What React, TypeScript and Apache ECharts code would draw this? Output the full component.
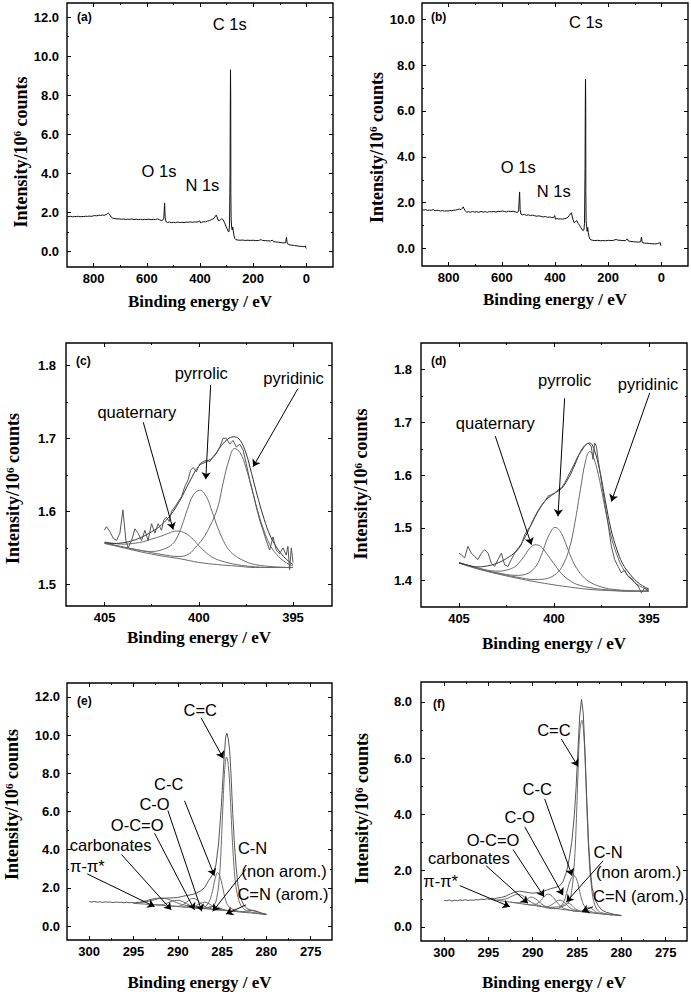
import React, { useEffect, useRef } from 'react';
import * as echarts from 'echarts';

const SANS = 'Liberation Sans, Arial, sans-serif';
const SERIF = 'Liberation Serif, Times New Roman, serif';

type Pt = [number, number];

// ---------- (a) survey ----------
const surveyA: Pt[] = [
  [900,1.80],[893,1.78],[886,1.80],[879,1.77],[872,1.79],[865,1.78],[858,1.80],[851,1.77],[844,1.79],[837,1.78],[830,1.80],[823,1.79],[816,1.81],[809,1.79],[802,1.82],[795,1.83],[788,1.82],[781,1.85],[774,1.84],[767,1.86],[760,1.85],[753,1.88],[748,1.92],[745,1.97],[742,1.93],[738,1.85],[734,1.76],[728,1.70],[720,1.68],[712,1.66],[704,1.67],[696,1.64],[688,1.66],[680,1.63],[672,1.65],[664,1.64],[656,1.66],[648,1.63],[640,1.65],[632,1.63],[624,1.64],[616,1.62],[608,1.64],[600,1.63],[592,1.65],[584,1.62],[576,1.64],[568,1.63],[560,1.66],[552,1.62],[545,1.58],[540,1.60],[536,1.70],[533,2.48],[531,1.75],[528,1.52],[522,1.48],[515,1.50],[508,1.47],[500,1.49],[492,1.47],[484,1.50],[476,1.48],[468,1.49],[460,1.47],[452,1.50],[444,1.49],[436,1.51],[428,1.49],[420,1.51],[412,1.50],[405,1.52],[401,1.57],[398,1.46],[393,1.50],[386,1.52],[379,1.51],[372,1.55],[365,1.57],[358,1.62],[351,1.66],[346,1.72],[342,1.80],[339,1.86],[336,1.76],[332,1.60],[328,1.56],[323,1.63],[318,1.67],[313,1.62],[308,1.48],[303,1.30],[298,1.15],[294,1.02],[291,1.00],[289,1.4],[287,4.0],[286,7.8],[285.3,9.3],[284.5,7.8],[284,3.0],[283,1.7],[281,1.25],[279,1.1],[277,1.25],[275,1.05],[272,0.8],[269,0.66],[265,0.60],[258,0.58],[250,0.57],[240,0.58],[230,0.56],[220,0.57],[210,0.56],[200,0.57],[190,0.55],[180,0.56],[170,0.60],[165,0.56],[155,0.55],[145,0.54],[135,0.53],[128,0.58],[124,0.50],[115,0.48],[105,0.47],[95,0.45],[85,0.43],[78,0.45],[75,0.72],[72,0.40],[65,0.34],[55,0.32],[45,0.30],[35,0.28],[25,0.26],[15,0.25],[8,0.24],[4,0.28],[2,0.18],[0,0.15]
];

// ---------- (b) survey ----------
const surveyB: Pt[] = [
  [900,1.70],[893,1.68],[886,1.70],[879,1.66],[872,1.68],[865,1.67],[858,1.70],[851,1.65],[844,1.67],[837,1.66],[830,1.64],[823,1.66],[816,1.63],[809,1.65],[802,1.64],[795,1.66],[788,1.65],[781,1.67],[774,1.68],[767,1.70],[760,1.72],[753,1.70],[748,1.76],[745,1.82],[742,1.74],[738,1.66],[732,1.58],[725,1.61],[718,1.58],[710,1.62],[702,1.59],[694,1.61],[686,1.58],[678,1.62],[670,1.59],[662,1.61],[654,1.58],[646,1.62],[638,1.60],[630,1.62],[622,1.59],[614,1.63],[606,1.61],[598,1.64],[590,1.62],[582,1.60],[574,1.63],[566,1.61],[558,1.63],[550,1.60],[542,1.58],[537,1.62],[533,2.47],[531,1.70],[528,1.50],[522,1.47],[515,1.49],[508,1.45],[500,1.47],[492,1.44],[484,1.46],[476,1.43],[468,1.41],[460,1.43],[452,1.40],[444,1.38],[436,1.40],[428,1.36],[420,1.38],[412,1.35],[405,1.36],[401,1.44],[398,1.28],[393,1.31],[386,1.29],[379,1.30],[372,1.28],[365,1.30],[358,1.32],[351,1.37],[346,1.45],[342,1.52],[339,1.56],[336,1.44],[332,1.25],[328,1.13],[323,1.18],[318,1.22],[313,1.10],[308,1.02],[303,0.92],[298,0.82],[294,0.78],[291,0.85],[289,1.1],[287,3.5],[286,6.4],[285.3,7.38],[284.5,6.4],[284,2.5],[283,1.2],[281,0.95],[279,0.75],[277,0.92],[275,0.70],[272,0.52],[269,0.42],[265,0.38],[258,0.36],[250,0.35],[240,0.36],[230,0.34],[220,0.35],[210,0.34],[200,0.36],[190,0.35],[180,0.36],[170,0.40],[165,0.37],[155,0.36],[145,0.35],[135,0.35],[128,0.42],[124,0.33],[115,0.31],[105,0.30],[95,0.29],[85,0.28],[78,0.30],[75,0.50],[72,0.26],[65,0.24],[55,0.23],[45,0.22],[35,0.21],[25,0.20],[15,0.22],[8,0.24],[4,0.26],[2,0.12],[0,0.10]
];

// ---------- (c) N 1s ----------
const rawC: Pt[] = [
  [405.02,1.574],[404.9,1.579],[404.72,1.572],[404.54,1.563],[404.37,1.56],[404.19,1.57],[404.03,1.602],[403.87,1.56],[403.75,1.55],[403.57,1.56],[403.39,1.576],[403.22,1.57],[403.04,1.56],[402.86,1.574],[402.69,1.56],[402.51,1.583],[402.33,1.57],[402.16,1.583],[401.98,1.574],[401.86,1.588],[401.72,1.592],[401.57,1.586],[401.45,1.60],[401.27,1.606],[401.1,1.613],[400.92,1.62],[400.74,1.634],[400.57,1.643],[400.44,1.656],[400.3,1.66],[400.13,1.654],[399.95,1.665],[399.77,1.668],[399.6,1.67],[399.42,1.668],[399.24,1.675],[399.07,1.68],[398.89,1.688],[398.71,1.70],[398.54,1.70],[398.36,1.692],[398.18,1.697],[398.01,1.688],[397.83,1.692],[397.65,1.684],[397.48,1.665],[397.3,1.643],[397.12,1.625],[396.95,1.606],[396.77,1.588],[396.59,1.574],[396.42,1.56],[396.24,1.547],[396.06,1.565],[395.89,1.547],[395.71,1.542],[395.53,1.55],[395.36,1.54],[395.27,1.552],[395.18,1.52],[395.09,1.55],[395.0,1.53]
];
const baseC: Pt[] = [[405,1.556],[404,1.550],[403,1.544],[402,1.539],[401,1.535],[400,1.530],[399,1.527],[398,1.525],[397,1.523],[396,1.523],[395,1.523]];
const quatC: Pt[] = [[405,1.558],[404,1.555],[403.5,1.556],[403,1.558],[402.5,1.562],[402,1.566],[401.6,1.570],[401.2,1.573],[400.8,1.571],[400.4,1.564],[400,1.553],[399.6,1.543],[399.2,1.536],[398.8,1.532],[398,1.527],[397,1.524],[396,1.523],[395,1.523]];
const pyrrC: Pt[] = [[405,1.557],[404,1.551],[403,1.546],[402.5,1.545],[402,1.547],[401.5,1.553],[401.2,1.562],[400.9,1.580],[400.6,1.603],[400.3,1.622],[399.95,1.629],[399.6,1.620],[399.3,1.600],[399,1.578],[398.7,1.560],[398.4,1.547],[398,1.538],[397.5,1.531],[397,1.527],[396,1.524],[395,1.523]];
const pyrC: Pt[] = [[405,1.556],[404,1.551],[403,1.546],[402,1.541],[401,1.538],[400.5,1.542],[400.2,1.550],[399.8,1.562],[399.4,1.580],[399,1.605],[398.7,1.640],[398.4,1.670],[398.1,1.686],[397.8,1.680],[397.5,1.660],[397.2,1.632],[396.9,1.603],[396.6,1.578],[396.3,1.558],[396,1.545],[395.5,1.532],[395,1.525]];
const envC: Pt[] = [[405,1.557],[404.5,1.556],[404,1.557],[403.5,1.560],[403,1.565],[402.5,1.572],[402,1.581],[401.5,1.595],[401,1.615],[400.5,1.640],[400,1.662],[399.6,1.668],[399.2,1.675],[398.8,1.690],[398.4,1.700],[398.1,1.702],[397.8,1.697],[397.5,1.680],[397.2,1.652],[396.9,1.622],[396.6,1.595],[396.3,1.572],[396,1.556],[395.5,1.538],[395,1.527]];

// ---------- (d) N 1s ----------
const rawD: Pt[] = [
  [405,1.452],[404.88,1.449],[404.7,1.443],[404.53,1.465],[404.35,1.452],[404.18,1.446],[404,1.44],[403.82,1.452],[403.65,1.459],[403.47,1.452],[403.3,1.433],[403.12,1.427],[402.95,1.44],[402.77,1.452],[402.6,1.43],[402.42,1.427],[402.25,1.44],[402.07,1.452],[401.89,1.459],[401.72,1.468],[401.54,1.487],[401.37,1.497],[401.19,1.506],[401.02,1.519],[400.84,1.531],[400.67,1.541],[400.49,1.55],[400.32,1.56],[400.14,1.563],[399.96,1.566],[399.79,1.572],[399.61,1.576],[399.44,1.585],[399.26,1.598],[399.09,1.61],[398.91,1.623],[398.74,1.636],[398.56,1.645],[398.39,1.655],[398.21,1.661],[398.04,1.655],[397.95,1.63],[397.86,1.661],[397.77,1.655],[397.68,1.63],[397.51,1.59],[397.33,1.547],[397.16,1.509],[396.98,1.465],[396.81,1.44],[396.63,1.427],[396.46,1.415],[396.28,1.42],[396.11,1.408],[395.93,1.405],[395.75,1.396],[395.58,1.39],[395.4,1.377],[395.23,1.386],[395.05,1.38]
];
const baseD: Pt[] = [[405,1.433],[404,1.422],[403,1.413],[402,1.405],[401,1.398],[400,1.392],[399,1.387],[398,1.383],[397,1.381],[396,1.380],[395,1.380]];
const quatD: Pt[] = [[405,1.434],[404,1.424],[403,1.418],[402.5,1.420],[402,1.428],[401.6,1.445],[401.3,1.460],[401,1.468],[400.7,1.465],[400.4,1.452],[400,1.432],[399.6,1.413],[399.2,1.401],[398.8,1.393],[398,1.386],[397,1.382],[396,1.380],[395,1.380]];
const pyrrD: Pt[] = [[405,1.434],[404,1.423],[403,1.415],[402,1.410],[401.5,1.412],[401,1.425],[400.7,1.445],[400.4,1.475],[400.15,1.494],[399.96,1.501],[399.7,1.495],[399.4,1.472],[399.1,1.444],[398.8,1.423],[398.4,1.405],[398,1.395],[397.5,1.388],[397,1.384],[396,1.381],[395,1.380]];
const pyrD: Pt[] = [[405,1.434],[404,1.423],[403,1.414],[402,1.407],[401,1.402],[400.5,1.403],[400,1.410],[399.6,1.425],[399.2,1.460],[398.9,1.510],[398.6,1.575],[398.35,1.625],[398.12,1.645],[397.9,1.632],[397.6,1.590],[397.3,1.535],[397,1.485],[396.7,1.450],[396.4,1.425],[396,1.405],[395.5,1.390],[395,1.382]];
const envD: Pt[] = [[405,1.434],[404.5,1.429],[404,1.426],[403.5,1.428],[403,1.433],[402.5,1.442],[402,1.456],[401.5,1.484],[401,1.522],[400.5,1.550],[400,1.565],[399.6,1.575],[399.2,1.597],[398.9,1.620],[398.6,1.645],[398.35,1.657],[398.12,1.661],[397.9,1.650],[397.6,1.610],[397.3,1.552],[397,1.497],[396.7,1.460],[396.4,1.433],[396,1.412],[395.5,1.394],[395,1.384]];

// ---------- (e) C 1s ----------
const rawE: Pt[] = [
  [300,1.28],[299.7,1.26],[299.4,1.29],[299.1,1.25],[298.8,1.27],[298.5,1.24],[298.2,1.27],[297.9,1.25],[297.6,1.26],[297.3,1.23],[297,1.26],[296.7,1.24],[296.4,1.25],[296.1,1.22],[295.8,1.25],[295.5,1.22],[295.2,1.24],[294.9,1.21],[294.6,1.24],[294.3,1.25],[294,1.28],[293.5,1.33],[293,1.40],[292.5,1.45],[292,1.46],[291.5,1.46],[291,1.47],[290.5,1.48],[290,1.50],[289.5,1.55],[289,1.60],[288.5,1.64],[288,1.70],[287.5,1.82],[287,2.0],[286.5,2.4],[286,2.75],[285.7,3.2],[285.4,4.3],[285.1,6.2],[284.8,8.6],[284.6,9.9],[284.45,10.1],[284.3,9.8],[284.15,9.2],[284,8.0],[283.8,5.9],[283.6,4.2],[283.4,3.0],[283.2,2.1],[283,1.7],[282.8,1.35],[282.5,1.05],[282.2,0.92],[281.8,0.84],[281.3,0.78],[280.8,0.71],[280.4,0.65],[280,0.62]
];
const baseE: Pt[] = [[295,1.19],[292.5,1.11],[290,1.02],[287.5,0.93],[285,0.83],[282.5,0.72],[280,0.60]];
const piE: Pt[] = [[295,1.19],[294,1.23],[293,1.33],[292.3,1.42],[291.8,1.45],[291.2,1.42],[290.5,1.30],[289.8,1.17],[289,1.07],[288,0.99]];
const carbE: Pt[] = [[293,1.13],[292,1.11],[291.2,1.20],[290.6,1.31],[290.1,1.35],[289.6,1.31],[289,1.17],[288.4,1.03],[287.8,0.95],[287,0.91]];
const ocoE: Pt[] = [[291,1.05],[290,1.04],[289.3,1.15],[288.8,1.33],[288.3,1.45],[287.8,1.36],[287.3,1.15],[286.7,0.97],[286,0.88],[285,0.83]];
const coE: Pt[] = [[289.5,1.00],[288.5,1.00],[287.9,1.08],[287.4,1.19],[287,1.25],[286.6,1.20],[286.1,1.06],[285.5,0.92],[284.5,0.81],[283.5,0.77]];
const cnE: Pt[] = [[288,0.95],[287,0.94],[286.5,0.99],[286,1.05],[285.5,1.00],[285,0.89],[284.3,0.81],[283.5,0.77]];
const ccE: Pt[] = [[288,0.95],[287,1.0],[286.5,1.25],[286.1,1.8],[285.8,2.45],[285.5,2.8],[285.2,2.55],[284.9,1.95],[284.6,1.35],[284.3,1.05],[283.8,0.88],[283,0.76],[282,0.70]];
const c2cE: Pt[] = [[287,0.93],[286,1.05],[285.6,1.5],[285.3,2.6],[285.1,4.2],[284.9,6.4],[284.7,8.2],[284.5,8.85],[284.3,8.4],[284.1,7.0],[283.9,5.0],[283.7,3.4],[283.5,2.3],[283.2,1.5],[282.9,1.1],[282.5,0.88],[282,0.76],[281,0.68],[280,0.61]];
const cnArE: Pt[] = [[284,0.78],[283,0.75],[282.3,0.78],[281.7,0.83],[281.2,0.80],[280.6,0.69],[280,0.61]];

// ---------- (f) C 1s ----------
const rawF: Pt[] = [
  [300,0.95],[299.7,0.93],[299.4,0.96],[299.1,0.92],[298.8,0.95],[298.5,0.93],[298.2,0.96],[297.9,0.94],[297.6,0.97],[297.3,0.94],[297,0.96],[296.7,0.95],[296.4,0.97],[296.1,0.96],[295.8,0.99],[295.5,0.97],[295.2,1.0],[294.9,0.99],[294.6,1.02],[294.3,1.0],[294,1.03],[293.5,1.05],[293,1.10],[292.5,1.18],[292,1.24],[291.5,1.27],[291,1.25],[290.5,1.22],[290,1.20],[289.5,1.22],[289,1.25],[288.5,1.30],[288,1.36],[287.5,1.40],[287,1.45],[286.6,1.60],[286.2,1.95],[285.9,2.4],[285.6,3.0],[285.3,4.0],[285.1,5.0],[284.9,6.3],[284.7,7.5],[284.5,8.1],[284.3,7.6],[284.1,6.2],[283.9,4.5],[283.7,3.0],[283.5,2.0],[283.3,1.4],[283.0,1.0],[282.6,0.75],[282.2,0.6],[281.7,0.52],[281.2,0.48],[280.7,0.44],[280.3,0.42],[280,0.40]
];
const baseF: Pt[] = [[295,0.99],[292.5,0.88],[290,0.77],[287.5,0.66],[285,0.56],[282.5,0.47],[280,0.40]];
const piF: Pt[] = [[294,0.96],[293,1.0],[292.3,1.10],[291.7,1.16],[291.1,1.10],[290.5,0.95],[289.8,0.82],[289,0.74],[288,0.68]];
const carbF: Pt[] = [[292.5,0.88],[291.5,0.86],[290.8,0.95],[290.2,1.06],[289.6,0.98],[289,0.82],[288.3,0.70],[287.5,0.66]];
const ocoF: Pt[] = [[291,0.81],[290,0.78],[289.2,0.90],[288.6,1.12],[288.2,1.16],[287.7,1.05],[287.1,0.82],[286.5,0.66],[285.5,0.58]];
const coF: Pt[] = [[289.5,0.75],[288.5,0.71],[287.8,0.80],[287.3,0.92],[286.9,0.95],[286.4,0.86],[285.8,0.68],[285,0.58],[284,0.53]];
const cnF: Pt[] = [[288.5,0.68],[287.3,0.65],[286.6,0.76],[286.2,0.85],[285.7,0.80],[285.2,0.65],[284.5,0.55],[283.5,0.50]];
const ccF: Pt[] = [[288,0.70],[287,0.72],[286.5,0.9],[286.1,1.3],[285.7,1.7],[285.35,1.82],[285,1.65],[284.7,1.25],[284.4,0.9],[284,0.66],[283.4,0.54],[282.5,0.48]];
const c2cF: Pt[] = [[287,0.70],[286,0.85],[285.6,1.3],[285.3,2.3],[285.1,3.6],[284.9,5.4],[284.7,6.9],[284.45,7.35],[284.25,6.9],[284.05,5.6],[283.85,3.9],[283.65,2.5],[283.4,1.5],[283.1,0.9],[282.7,0.6],[282.2,0.5],[281,0.44],[280,0.41]];
const cnArF: Pt[] = [[285.5,0.56],[284.7,0.55],[284.1,0.64],[283.7,0.70],[283.3,0.64],[282.8,0.52],[282,0.46],[281,0.43]];

// ---------- axis ticks ----------
const surveyXMajor = [0, 200, 400, 600, 800];
const surveyXMinor = [100, 300, 500, 700];
const surveyYMajorA = [0, 2, 4, 6, 8, 10, 12];
const surveyYMinorA = [1, 3, 5, 7, 9, 11];
const surveyYMajorB = [0, 2, 4, 6, 8, 10];
const surveyYMinorB = [1, 3, 5, 7, 9];
const nXMajor = [395, 400, 405];
const nXMinor = [397.5, 402.5];
const nYMajorC = [1.5, 1.6, 1.7, 1.8];
const nYMinorC = [1.55, 1.65, 1.75];
const nYMajorD = [1.4, 1.5, 1.6, 1.7, 1.8];
const nYMinorD = [1.45, 1.55, 1.65, 1.75];
const cXMajor = [275, 280, 285, 290, 295, 300];
const cXMinor = [277.5, 282.5, 287.5, 292.5, 297.5];
const cYMajorE = [0, 2, 4, 6, 8, 10, 12];
const cYMinorE = [1, 3, 5, 7, 9, 11];
const cYMajorF = [0, 2, 4, 6, 8];
const cYMinorF = [1, 3, 5, 7];

// ---------- annotations (data coordinates) ----------
type Lbl = { t: string; x: number; y: number };
type Arr = [number, number, number, number];
const labelsA: Lbl[] = [{ t: 'C 1s', x: 288, y: 11.62 }, { t: 'O 1s', x: 554, y: 4.1 }, { t: 'N 1s', x: 391, y: 3.41 }];
const labelsB: Lbl[] = [{ t: 'C 1s', x: 284, y: 9.88 }, { t: 'O 1s', x: 538, y: 3.56 }, { t: 'N 1s', x: 405, y: 2.51 }];
const labelsC: Lbl[] = [{ t: 'quaternary', x: 403.29, y: 1.736 }, { t: 'pyrrolic', x: 399.87, y: 1.79 }, { t: 'pyridinic', x: 394.97, y: 1.782 }];
const arrowsC: Arr[] = [[402.95, 1.722, 401.36, 1.575], [399.37, 1.773, 399.63, 1.644], [394.74, 1.768, 397.12, 1.661]];
const labelsD: Lbl[] = [{ t: 'quaternary', x: 403.09, y: 1.699 }, { t: 'pyrrolic', x: 399.44, y: 1.78 }, { t: 'pyridinic', x: 395.05, y: 1.773 }];
const arrowsD: Arr[] = [[403.09, 1.674, 401.19, 1.468], [399.44, 1.746, 399.79, 1.522], [394.96, 1.756, 396.98, 1.55]];
const labelsE: Lbl[] = [
  { t: 'C=C', x: 287.46, y: 11.33 }, { t: 'C-C', x: 291.02, y: 7.42 }, { t: 'C-O', x: 292.62, y: 6.4 },
  { t: 'O-C=O', x: 294.58, y: 5.3 }, { t: 'carbonates', x: 297.58, y: 4.22 }, { t: 'π-π*', x: 300.2, y: 3.12 },
  { t: 'C-N', x: 281.56, y: 4.09 }, { t: '(non arom.)', x: 278.0, y: 2.9 }, { t: 'C=N (arom.)', x: 278.13, y: 1.66 },
];
const arrowsE: Arr[] = [
  [287.37, 10.91, 284.86, 8.78], [289.24, 6.56, 285.87, 2.64], [291.12, 6.05, 287.29, 0.77],
  [292.62, 4.86, 288.12, 0.85], [296.36, 3.75, 290.74, 0.85], [300.22, 2.73, 292.62, 1.02],
  [282.31, 2.98, 286.06, 0.77], [282.31, 1.11, 284.56, 0.63],
];
const labelsF: Lbl[] = [
  { t: 'C=C', x: 287.61, y: 6.99 }, { t: 'C-C', x: 289.49, y: 4.9 }, { t: 'C-O', x: 291.47, y: 3.91 },
  { t: 'O-C=O', x: 294.47, y: 3.1 }, { t: 'carbonates', x: 297.2, y: 2.46 }, { t: 'π-π*', x: 300.39, y: 1.63 },
  { t: 'C-N', x: 281.5, y: 2.67 }, { t: '(non arom.)', x: 278.05, y: 1.94 }, { t: 'C=N (arom.)', x: 278.05, y: 1.1 },
];
const arrowsF: Arr[] = [
  [286.77, 6.68, 284.89, 5.71], [288.65, 4.55, 285.56, 1.82], [290.9, 3.56, 286.58, 1.13],
  [292.22, 2.75, 288.72, 1.07], [295.23, 2.17, 290.53, 0.84], [298.23, 1.47, 292.59, 0.72],
  [282.07, 2.35, 286.2, 0.89], [283.2, 0.72, 284.44, 0.55],
];

// ---------- layout ----------
const panels = [
  { letter: '(a)', grid: { left: 67, top: 3, width: 266, height: 264 }, lx: 77, ly: 11,
    x: { min: -100, max: 900, maj: surveyXMajor, min2: surveyXMinor }, y: { min: -0.8, max: 12.72, maj: surveyYMajorA, min2: surveyYMinorA },
    gapX: 26, gapY: 35, shiftY: 17, ylm: 8 },
  { letter: '(b)', grid: { left: 422, top: 3, width: 266, height: 263 }, lx: 431, ly: 11,
    x: { min: -100, max: 900, maj: surveyXMajor, min2: surveyXMinor }, y: { min: -0.76, max: 10.71, maj: surveyYMajorB, min2: surveyYMinorB },
    gapX: 25, gapY: 35, shiftY: 13, ylm: 7 },
  { letter: '(c)', grid: { left: 66, top: 343, width: 266, height: 263 }, lx: 76, ly: 355,
    x: { min: 392.93, max: 407.05, maj: nXMajor, min2: nXMinor }, y: { min: 1.4703, max: 1.8305, maj: nYMajorC, min2: nYMinorC },
    gapX: 23, gapY: 44, shiftY: 14, ylm: 10 },
  { letter: '(d)', grid: { left: 421, top: 343, width: 266, height: 264 }, lx: 431, ly: 355,
    x: { min: 393, max: 407, maj: nXMajor, min2: nXMinor }, y: { min: 1.35, max: 1.8506, maj: nYMajorD, min2: nYMinorD },
    gapX: 28, gapY: 51, shiftY: 9, ylm: 9 },
  { letter: '(e)', grid: { left: 67, top: 683, width: 265, height: 263 }, lx: 77, ly: 695,
    x: { min: 272.6, max: 302.5, maj: cXMajor, min2: cXMinor }, y: { min: -0.73, max: 12.73, maj: cYMajorE, min2: cYMinorE },
    gapX: 34, gapY: 46, shiftY: -7, ylm: 7 },
  { letter: '(f)', grid: { left: 421, top: 682, width: 266, height: 265 }, lx: 433, ly: 698,
    x: { min: 272.6, max: 302.6, maj: cXMajor, min2: cXMinor }, y: { min: -0.5, max: 8.71, maj: cYMajorF, min2: cYMinorF },
    gapX: 33, gapY: 50, shiftY: -3, ylm: 9 },
];

function tick(vals: number[], len: number) {
  return { show: true, inside: true, length: len, customValues: vals, lineStyle: { color: '#000', width: 1 } };
}

function buildAxes(kind: 'x' | 'y', gi: number, p: any) {
  const r = kind === 'x' ? p.x : p.y;
  const common: any = {
    type: 'value', gridIndex: gi, min: r.min, max: r.max, inverse: kind === 'x',
    splitLine: { show: false }, axisLine: { show: false, onZero: false }, scale: true,
  };
  const posA = kind === 'x' ? 'bottom' : 'left';
  const posB = kind === 'x' ? 'top' : 'right';
  const labelStyle = {
    show: true, customValues: r.maj, formatter: (v: number) => v.toFixed(kind === 'x' ? 0 : 1),
    fontFamily: SANS, fontWeight: 'bold', fontSize: 13, color: '#000', margin: kind === 'x' ? 5 : p.ylm,
  };
  const nameStyleX = { fontFamily: SERIF, fontWeight: 'bold', fontSize: 17, color: '#000' };
  const pad = p.shiftY >= 0 ? [0, 2 * p.shiftY, 0, 0] : [0, 0, 0, -2 * p.shiftY];
  const nameStyleY = {
    fontFamily: SERIF, fontWeight: 'bold', fontSize: 18, color: '#000', padding: pad,
    rich: {
      t: { fontFamily: SERIF, fontWeight: 'bold', fontSize: 18, color: '#000' },
      s: { fontFamily: SERIF, fontWeight: 'bold', fontSize: 11, color: '#000', verticalAlign: 'top' },
    },
  };
  const main = {
    ...common, position: posA, axisTick: tick(r.maj, 4), axisLabel: labelStyle,
    name: kind === 'x' ? 'Binding energy / eV' : '{t|Intensity/10}{s|6}{t| counts}',
    nameLocation: 'middle', nameGap: kind === 'x' ? p.gapX : p.gapY,
    nameTextStyle: kind === 'x' ? nameStyleX : nameStyleY,
  };
  const minor = { ...common, position: posA, axisTick: tick(r.min2, 2), axisLabel: { show: false } };
  const oppMaj = { ...common, position: posB, axisTick: tick(r.maj, 4), axisLabel: { show: false } };
  const oppMin = { ...common, position: posB, axisTick: tick(r.min2, 2), axisLabel: { show: false } };
  return [main, minor, oppMaj, oppMin];
}

function line(pi: number, data: Pt[], color: string, smooth: number | boolean, extra: any = {}) {
  return {
    type: 'line', xAxisIndex: pi * 4, yAxisIndex: pi * 4, data, showSymbol: false, symbol: 'none',
    smooth, lineStyle: { color, width: 1 }, silent: true, z: 3, ...extra,
  };
}

function annot(labels: Lbl[], arrows: Arr[]) {
  const out: any = {
    markPoint: {
      symbol: 'circle', symbolSize: 1, silent: true, itemStyle: { color: 'rgba(0,0,0,0)' },
      label: { show: true, position: 'inside', color: '#000', fontFamily: SANS, fontSize: 16.5, lineHeight: 17 },
      data: labels.map((l) => ({ coord: [l.x, l.y], value: 0, label: { formatter: l.t } })),
    },
  };
  if (arrows.length) {
    out.markLine = {
      silent: true, symbol: ['none', 'arrow'], symbolSize: 7, animation: false,
      lineStyle: { color: '#000', width: 1, type: 'solid' }, label: { show: false },
      data: arrows.map((a) => [{ coord: [a[0], a[1]] }, { coord: [a[2], a[3]] }]),
    };
  }
  return out;
}

export default function App() {
  const ref = useRef<HTMLDivElement>(null);
  useEffect(() => {
    if (!ref.current) return;
    const chart = echarts.init(ref.current, undefined, { renderer: 'svg' });
    const xAxis: any[] = [];
    const yAxis: any[] = [];
    panels.forEach((p, i) => {
      xAxis.push(...buildAxes('x', i, p));
      yAxis.push(...buildAxes('y', i, p));
    });
    const comp = '#6a6a6a';
    const series: any[] = [
      line(0, surveyA, '#111', false, annot(labelsA, [])),
      line(1, surveyB, '#111', false, annot(labelsB, [])),
      line(2, baseC, comp, 0.4), line(2, quatC, comp, 0.4), line(2, pyrrC, comp, 0.4), line(2, pyrC, comp, 0.4),
      line(2, envC, '#333', 0.4), line(2, rawC, '#555', false, annot(labelsC, arrowsC)),
      line(3, baseD, comp, 0.4), line(3, quatD, comp, 0.4), line(3, pyrrD, comp, 0.4), line(3, pyrD, comp, 0.4),
      line(3, envD, '#333', 0.4), line(3, rawD, '#555', false, annot(labelsD, arrowsD)),
      line(4, baseE, comp, 0.4), line(4, piE, comp, 0.4), line(4, carbE, comp, 0.4), line(4, ocoE, comp, 0.4),
      line(4, coE, comp, 0.4), line(4, cnE, comp, 0.4), line(4, ccE, comp, 0.4), line(4, c2cE, comp, 0.4),
      line(4, cnArE, comp, 0.4), line(4, rawE, '#555', false, annot(labelsE, arrowsE)),
      line(5, baseF, comp, 0.4), line(5, piF, comp, 0.4), line(5, carbF, comp, 0.4), line(5, ocoF, comp, 0.4),
      line(5, coF, comp, 0.4), line(5, cnF, comp, 0.4), line(5, ccF, comp, 0.4), line(5, c2cF, comp, 0.4),
      line(5, cnArF, comp, 0.4), line(5, rawF, '#555', false, annot(labelsF, arrowsF)),
    ];
    chart.setOption({
      animation: false,
      backgroundColor: '#fff',
      grid: panels.map((p) => ({ ...p.grid, show: true, borderColor: '#000', borderWidth: 1.4, backgroundColor: 'transparent', containLabel: false })),
      xAxis, yAxis, series,
      graphic: panels.map((p) => ({
        type: 'text', left: p.lx, top: p.ly, silent: true,
        style: { text: p.letter, fontFamily: SANS, fontWeight: 'bold', fontSize: 12, fill: '#000' },
      })),
    });
    return () => chart.dispose();
  }, []);
  return (
    <div style={{ position: 'absolute', left: 0, top: 0, width: 691, height: 992, background: '#fff' }}>
      <div ref={ref} style={{ width: 691, height: 992 }} />
    </div>
  );
}
